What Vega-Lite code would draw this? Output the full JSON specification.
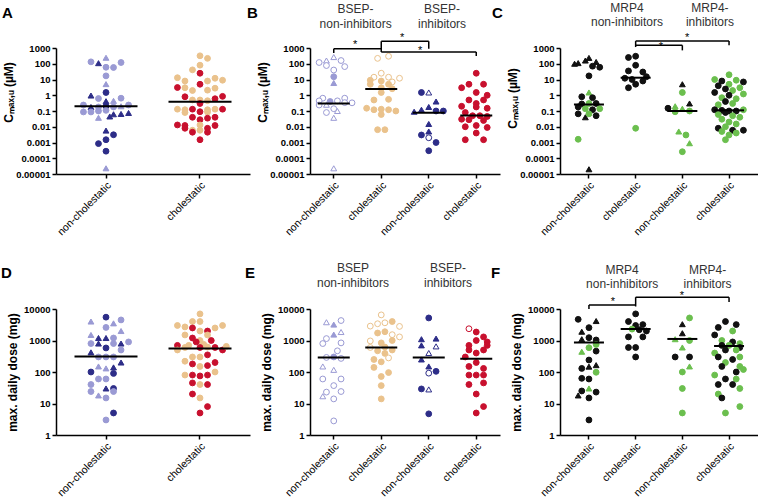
{
"$schema":"https://vega.github.io/schema/vega-lite/v6.json",
"padding":{"left":1,"top":1,"right":0,"bottom":0},
"background":"white",
"resolve":{"scale":{"xOffset":"independent","x":"independent","y":"independent"}},
"config":{"font":"Liberation Sans","view":{"stroke":null},
 "axis":{"domainColor":"black","domainWidth":1.5,"tickColor":"black","tickWidth":1.5,"tickSize":4,"labelColor":"black","titleColor":"black","grid":false},
 "axisY":{"labelFontSize":9.5,"labelFontWeight":"bold","labelPadding":2,"titleFontSize":12,"titleFontWeight":"bold"},
 "axisX":{"labelFontSize":10.5,"labelAngle":-45,"labelPadding":2}},
"datasets":{
"pts":[
{"p":"A","g":"nc","v":240,"s":0,"k":"lav","m":"t"},{"p":"A","g":"nc","v":132,"s":-4,"k":"lav","m":"c"},{"p":"A","g":"nc","v":109,"s":-2,"k":"nav","m":"t"},{"p":"A","g":"nc","v":120,"s":4,"k":"lav","m":"c"},{"p":"A","g":"nc","v":60,"s":0,"k":"lav","m":"c"},{"p":"A","g":"nc","v":58,"s":2,"k":"lav","m":"c"},{"p":"A","g":"nc","v":17,"s":0,"k":"lav","m":"c"},{"p":"A","g":"nc","v":5.1,"s":0,"k":"lav","m":"t"},{"p":"A","g":"nc","v":1.5,"s":0,"k":"nav","m":"c"},{"p":"A","g":"nc","v":0.96,"s":-4,"k":"nav","m":"t"},{"p":"A","g":"nc","v":0.62,"s":-2,"k":"lav","m":"c"},{"p":"A","g":"nc","v":0.65,"s":4,"k":"lav","m":"c"},{"p":"A","g":"nc","v":0.42,"s":0,"k":"nav","m":"t"},{"p":"A","g":"nc","v":0.44,"s":2,"k":"lav","m":"t"},{"p":"A","g":"nc","v":0.24,"s":-6,"k":"lav","m":"c"},{"p":"A","g":"nc","v":0.24,"s":6,"k":"lav","m":"c"},{"p":"A","g":"nc","v":0.18,"s":-4,"k":"nav","m":"t"},{"p":"A","g":"nc","v":0.18,"s":-2,"k":"lav","m":"c"},{"p":"A","g":"nc","v":0.2,"s":0,"k":"nav","m":"c"},{"p":"A","g":"nc","v":0.18,"s":2,"k":"lav","m":"c"},{"p":"A","g":"nc","v":0.2,"s":4,"k":"lav","m":"t"},{"p":"A","g":"nc","v":0.087,"s":-6,"k":"lav","m":"c"},{"p":"A","g":"nc","v":0.087,"s":-4,"k":"lav","m":"c"},{"p":"A","g":"nc","v":0.1,"s":-2,"k":"lav","m":"c"},{"p":"A","g":"nc","v":0.11,"s":0,"k":"lav","m":"c"},{"p":"A","g":"nc","v":0.062,"s":2,"k":"nav","m":"t"},{"p":"A","g":"nc","v":0.065,"s":4,"k":"nav","m":"t"},{"p":"A","g":"nc","v":0.075,"s":6,"k":"nav","m":"t"},{"p":"A","g":"nc","v":0.037,"s":-2,"k":"lav","m":"t"},{"p":"A","g":"nc","v":0.045,"s":1,"k":"nav","m":"t"},{"p":"A","g":"nc","v":0.0057,"s":0,"k":"nav","m":"t"},{"p":"A","g":"nc","v":0.0031,"s":2,"k":"nav","m":"c"},{"p":"A","g":"nc","v":0.0015,"s":0,"k":"nav","m":"c"},{"p":"A","g":"nc","v":0.00085,"s":-2,"k":"nav","m":"c"},{"p":"A","g":"nc","v":0.00028,"s":0,"k":"nav","m":"c"},{"p":"A","g":"nc","v":0.000023,"s":0,"k":"lav","m":"t"},
{"p":"A","g":"c","v":320,"s":0,"k":"tan","m":"c"},{"p":"A","g":"c","v":220,"s":2,"k":"tan","m":"c"},{"p":"A","g":"c","v":81,"s":0,"k":"tan","m":"c"},{"p":"A","g":"c","v":41,"s":-2,"k":"tan","m":"c"},{"p":"A","g":"c","v":25,"s":0,"k":"red","m":"c"},{"p":"A","g":"c","v":13,"s":-6,"k":"tan","m":"c"},{"p":"A","g":"c","v":12,"s":4,"k":"tan","m":"c"},{"p":"A","g":"c","v":9,"s":6,"k":"tan","m":"c"},{"p":"A","g":"c","v":8,"s":-4,"k":"tan","m":"c"},{"p":"A","g":"c","v":8,"s":2,"k":"tan","m":"c"},{"p":"A","g":"c","v":5,"s":0,"k":"red","m":"c"},{"p":"A","g":"c","v":3.1,"s":-6,"k":"red","m":"c"},{"p":"A","g":"c","v":3,"s":-4,"k":"tan","m":"c"},{"p":"A","g":"c","v":2.8,"s":4,"k":"tan","m":"c"},{"p":"A","g":"c","v":2,"s":-2,"k":"tan","m":"c"},{"p":"A","g":"c","v":2.1,"s":2,"k":"tan","m":"c"},{"p":"A","g":"c","v":0.8,"s":-4,"k":"red","m":"c"},{"p":"A","g":"c","v":0.85,"s":6,"k":"red","m":"c"},{"p":"A","g":"c","v":0.6,"s":4,"k":"red","m":"c"},{"p":"A","g":"c","v":0.5,"s":-2,"k":"tan","m":"c"},{"p":"A","g":"c","v":0.5,"s":0,"k":"tan","m":"c"},{"p":"A","g":"c","v":0.45,"s":2,"k":"tan","m":"c"},{"p":"A","g":"c","v":0.3,"s":0,"k":"red","m":"c"},{"p":"A","g":"c","v":0.13,"s":-6,"k":"tan","m":"c"},{"p":"A","g":"c","v":0.12,"s":-4,"k":"tan","m":"c"},{"p":"A","g":"c","v":0.13,"s":-2,"k":"red","m":"c"},{"p":"A","g":"c","v":0.12,"s":2,"k":"tan","m":"c"},{"p":"A","g":"c","v":0.13,"s":4,"k":"tan","m":"c"},{"p":"A","g":"c","v":0.13,"s":6,"k":"red","m":"c"},{"p":"A","g":"c","v":0.08,"s":-4,"k":"tan","m":"c"},{"p":"A","g":"c","v":0.09,"s":0,"k":"red","m":"c"},{"p":"A","g":"c","v":0.085,"s":2,"k":"tan","m":"c"},{"p":"A","g":"c","v":0.04,"s":-2,"k":"red","m":"c"},{"p":"A","g":"c","v":0.035,"s":2,"k":"red","m":"c"},{"p":"A","g":"c","v":0.04,"s":4,"k":"red","m":"c"},{"p":"A","g":"c","v":0.028,"s":0,"k":"red","m":"c"},{"p":"A","g":"c","v":0.013,"s":-6,"k":"red","m":"c"},{"p":"A","g":"c","v":0.012,"s":-4,"k":"red","m":"c"},{"p":"A","g":"c","v":0.013,"s":0,"k":"tan","m":"c"},{"p":"A","g":"c","v":0.012,"s":4,"k":"red","m":"c"},{"p":"A","g":"c","v":0.008,"s":-4,"k":"red","m":"c"},{"p":"A","g":"c","v":0.008,"s":2,"k":"red","m":"c"},{"p":"A","g":"c","v":0.006,"s":-2,"k":"tan","m":"c"},{"p":"A","g":"c","v":0.006,"s":0,"k":"tan","m":"c"},{"p":"A","g":"c","v":0.0045,"s":-2,"k":"red","m":"c"},{"p":"A","g":"c","v":0.0045,"s":2,"k":"red","m":"c"},{"p":"A","g":"c","v":0.0015,"s":0,"k":"red","m":"c"},
{"p":"B","g":"nc","v":265,"s":0,"k":"lav","m":"t","o":1},{"p":"B","g":"nc","v":160,"s":-2,"k":"lav","m":"t","o":1},{"p":"B","g":"nc","v":160,"s":2,"k":"lav","m":"c","o":1},{"p":"B","g":"nc","v":120,"s":-4,"k":"lav","m":"c","o":1},{"p":"B","g":"nc","v":77,"s":-2,"k":"lav","m":"c","o":1},{"p":"B","g":"nc","v":66,"s":3,"k":"lav","m":"c","o":1},{"p":"B","g":"nc","v":40,"s":0,"k":"lav","m":"c","o":1},{"p":"B","g":"nc","v":15,"s":0,"k":"lav","m":"c"},{"p":"B","g":"nc","v":6,"s":0,"k":"lav","m":"t"},{"p":"B","g":"nc","v":0.65,"s":-3,"k":"lav","m":"c","o":1},{"p":"B","g":"nc","v":0.65,"s":3,"k":"lav","m":"c","o":1},{"p":"B","g":"nc","v":0.44,"s":-4,"k":"lav","m":"c","o":1},{"p":"B","g":"nc","v":0.4,"s":-1,"k":"lav","m":"c"},{"p":"B","g":"nc","v":0.44,"s":1,"k":"lav","m":"c","o":1},{"p":"B","g":"nc","v":0.25,"s":-2,"k":"lav","m":"t","o":1},{"p":"B","g":"nc","v":0.24,"s":-4,"k":"lav","m":"c","o":1},{"p":"B","g":"nc","v":0.34,"s":3,"k":"lav","m":"c","o":1},{"p":"B","g":"nc","v":0.33,"s":5,"k":"lav","m":"c","o":1},{"p":"B","g":"nc","v":0.08,"s":-2,"k":"lav","m":"c","o":1},{"p":"B","g":"nc","v":0.1,"s":1,"k":"lav","m":"t","o":1},{"p":"B","g":"nc","v":0.14,"s":0,"k":"lav","m":"c","o":1},{"p":"B","g":"nc","v":0.037,"s":0,"k":"lav","m":"t","o":1},{"p":"B","g":"nc","v":0.000023,"s":0,"k":"lav","m":"t","o":1},
{"p":"B","g":"c","v":300,"s":2,"k":"tan","m":"c","o":1},{"p":"B","g":"c","v":220,"s":-1,"k":"tan","m":"c","o":1},{"p":"B","g":"c","v":14,"s":-2,"k":"tan","m":"c","o":1},{"p":"B","g":"c","v":14,"s":2,"k":"tan","m":"c","o":1},{"p":"B","g":"c","v":12,"s":5,"k":"tan","m":"c","o":1},{"p":"B","g":"c","v":8,"s":0,"k":"tan","m":"c"},{"p":"B","g":"c","v":9,"s":-3,"k":"tan","m":"c"},{"p":"B","g":"c","v":7,"s":3,"k":"tan","m":"c","o":1},{"p":"B","g":"c","v":5,"s":-3,"k":"tan","m":"c"},{"p":"B","g":"c","v":5,"s":2,"k":"tan","m":"c"},{"p":"B","g":"c","v":3,"s":0,"k":"tan","m":"c"},{"p":"B","g":"c","v":2.6,"s":3,"k":"tan","m":"c"},{"p":"B","g":"c","v":1.5,"s":0,"k":"tan","m":"c"},{"p":"B","g":"c","v":0.5,"s":-2,"k":"tan","m":"c"},{"p":"B","g":"c","v":0.55,"s":2,"k":"tan","m":"c"},{"p":"B","g":"c","v":0.15,"s":-4,"k":"tan","m":"c"},{"p":"B","g":"c","v":0.12,"s":-2,"k":"tan","m":"c"},{"p":"B","g":"c","v":0.13,"s":0,"k":"tan","m":"c"},{"p":"B","g":"c","v":0.12,"s":2,"k":"tan","m":"c"},{"p":"B","g":"c","v":0.1,"s":4,"k":"tan","m":"c"},{"p":"B","g":"c","v":0.06,"s":0,"k":"tan","m":"c"},{"p":"B","g":"c","v":0.0065,"s":-1,"k":"tan","m":"c"},{"p":"B","g":"c","v":0.0065,"s":1,"k":"tan","m":"c"},{"p":"B","g":"c","v":25,"s":0,"k":"tan","m":"c","o":1},
{"p":"B","g":"nc2","v":1.5,"s":-2,"k":"nav","m":"c"},{"p":"B","g":"nc2","v":1.5,"s":0,"k":"nav","m":"t","o":1},{"p":"B","g":"nc2","v":0.4,"s":2,"k":"nav","m":"t"},{"p":"B","g":"nc2","v":0.18,"s":0,"k":"nav","m":"t"},{"p":"B","g":"nc2","v":0.12,"s":-2,"k":"nav","m":"t"},{"p":"B","g":"nc2","v":0.1,"s":2,"k":"nav","m":"c"},{"p":"B","g":"nc2","v":0.09,"s":-4,"k":"nav","m":"t"},{"p":"B","g":"nc2","v":0.1,"s":4,"k":"nav","m":"c"},{"p":"B","g":"nc2","v":0.015,"s":0,"k":"nav","m":"t"},{"p":"B","g":"nc2","v":0.005,"s":0,"k":"nav","m":"t"},{"p":"B","g":"nc2","v":0.003,"s":-2,"k":"nav","m":"c"},{"p":"B","g":"nc2","v":0.002,"s":0,"k":"nav","m":"c","o":1},{"p":"B","g":"nc2","v":0.001,"s":2,"k":"nav","m":"c"},{"p":"B","g":"nc2","v":0.0003,"s":0,"k":"nav","m":"c"},
{"p":"B","g":"c2","v":25,"s":0,"k":"red","m":"c"},{"p":"B","g":"c2","v":5,"s":-2,"k":"red","m":"c"},{"p":"B","g":"c2","v":5,"s":2,"k":"red","m":"c"},{"p":"B","g":"c2","v":3,"s":-4,"k":"red","m":"c"},{"p":"B","g":"c2","v":1.5,"s":0,"k":"red","m":"c"},{"p":"B","g":"c2","v":1,"s":3,"k":"red","m":"c"},{"p":"B","g":"c2","v":0.5,"s":-2,"k":"red","m":"c"},{"p":"B","g":"c2","v":0.5,"s":2,"k":"red","m":"c"},{"p":"B","g":"c2","v":0.3,"s":0,"k":"red","m":"c"},{"p":"B","g":"c2","v":0.2,"s":-4,"k":"red","m":"c"},{"p":"B","g":"c2","v":0.18,"s":0,"k":"red","m":"c"},{"p":"B","g":"c2","v":0.15,"s":3,"k":"red","m":"c"},{"p":"B","g":"c2","v":0.08,"s":-3,"k":"red","m":"c"},{"p":"B","g":"c2","v":0.05,"s":-1,"k":"red","m":"c"},{"p":"B","g":"c2","v":0.05,"s":1,"k":"red","m":"c"},{"p":"B","g":"c2","v":0.045,"s":3,"k":"red","m":"c"},{"p":"B","g":"c2","v":0.03,"s":-4,"k":"red","m":"c"},{"p":"B","g":"c2","v":0.028,"s":-2,"k":"red","m":"c"},{"p":"B","g":"c2","v":0.025,"s":2,"k":"red","m":"c"},{"p":"B","g":"c2","v":0.01,"s":-3,"k":"red","m":"c"},{"p":"B","g":"c2","v":0.012,"s":0,"k":"red","m":"c"},{"p":"B","g":"c2","v":0.009,"s":3,"k":"red","m":"c"},{"p":"B","g":"c2","v":0.004,"s":0,"k":"red","m":"c"},{"p":"B","g":"c2","v":0.0015,"s":-3,"k":"red","m":"c"},{"p":"B","g":"c2","v":0.0015,"s":2,"k":"red","m":"c"},
{"p":"C","g":"nc","v":110,"s":-3,"k":"blk","m":"t"},{"p":"C","g":"nc","v":160,"s":-1,"k":"blk","m":"t"},{"p":"C","g":"nc","v":235,"s":0,"k":"blk","m":"t"},{"p":"C","g":"nc","v":130,"s":2,"k":"blk","m":"t"},{"p":"C","g":"nc","v":100,"s":-4,"k":"blk","m":"t"},{"p":"C","g":"nc","v":70,"s":1,"k":"blk","m":"c"},{"p":"C","g":"nc","v":60,"s":3,"k":"blk","m":"c"},{"p":"C","g":"nc","v":17,"s":0,"k":"blk","m":"c"},{"p":"C","g":"nc","v":1.5,"s":0,"k":"grn","m":"t"},{"p":"C","g":"nc","v":0.8,"s":-2,"k":"blk","m":"c"},{"p":"C","g":"nc","v":0.7,"s":1,"k":"blk","m":"c"},{"p":"C","g":"nc","v":0.28,"s":-2,"k":"blk","m":"c"},{"p":"C","g":"nc","v":0.3,"s":0,"k":"grn","m":"c"},{"p":"C","g":"nc","v":0.3,"s":2,"k":"blk","m":"c"},{"p":"C","g":"nc","v":0.18,"s":-3,"k":"blk","m":"c"},{"p":"C","g":"nc","v":0.14,"s":-1,"k":"grn","m":"c"},{"p":"C","g":"nc","v":0.12,"s":1,"k":"blk","m":"c"},{"p":"C","g":"nc","v":0.14,"s":3,"k":"grn","m":"c"},{"p":"C","g":"nc","v":0.066,"s":-3,"k":"blk","m":"c"},{"p":"C","g":"nc","v":0.05,"s":2,"k":"blk","m":"c"},{"p":"C","g":"nc","v":0.04,"s":-1,"k":"blk","m":"t"},{"p":"C","g":"nc","v":0.066,"s":0,"k":"grn","m":"c"},{"p":"C","g":"nc","v":0.0016,"s":-3,"k":"grn","m":"c"},{"p":"C","g":"nc","v":0.00002,"s":0,"k":"blk","m":"t"},
{"p":"C","g":"c","v":250,"s":-2,"k":"blk","m":"c"},{"p":"C","g":"c","v":300,"s":0,"k":"blk","m":"c"},{"p":"C","g":"c","v":80,"s":0,"k":"blk","m":"c"},{"p":"C","g":"c","v":35,"s":-2,"k":"blk","m":"c"},{"p":"C","g":"c","v":30,"s":2,"k":"blk","m":"c"},{"p":"C","g":"c","v":10,"s":-1,"k":"blk","m":"c"},{"p":"C","g":"c","v":8,"s":2,"k":"blk","m":"c"},{"p":"C","g":"c","v":5,"s":0,"k":"blk","m":"c"},{"p":"C","g":"c","v":3,"s":-2,"k":"blk","m":"c"},{"p":"C","g":"c","v":12,"s":-3,"k":"blk","m":"c"},{"p":"C","g":"c","v":15,"s":3,"k":"blk","m":"c"},{"p":"C","g":"c","v":0.008,"s":0,"k":"grn","m":"c"},
{"p":"C","g":"nc2","v":5,"s":0,"k":"blk","m":"t"},{"p":"C","g":"nc2","v":1.5,"s":0,"k":"grn","m":"c"},{"p":"C","g":"nc2","v":0.2,"s":-2,"k":"grn","m":"t"},{"p":"C","g":"nc2","v":0.3,"s":2,"k":"blk","m":"t"},{"p":"C","g":"nc2","v":0.15,"s":-4,"k":"blk","m":"c"},{"p":"C","g":"nc2","v":0.14,"s":0,"k":"grn","m":"t"},{"p":"C","g":"nc2","v":0.1,"s":2,"k":"grn","m":"c"},{"p":"C","g":"nc2","v":0.09,"s":-2,"k":"grn","m":"c"},{"p":"C","g":"nc2","v":0.005,"s":-1,"k":"grn","m":"t"},{"p":"C","g":"nc2","v":0.003,"s":1,"k":"grn","m":"c"},{"p":"C","g":"nc2","v":0.0009,"s":2,"k":"grn","m":"t"},{"p":"C","g":"nc2","v":0.00026,"s":0,"k":"grn","m":"c"},
{"p":"C","g":"c2","v":20,"s":0,"k":"grn","m":"c"},{"p":"C","g":"c2","v":8,"s":-2,"k":"blk","m":"c"},{"p":"C","g":"c2","v":9,"s":2,"k":"grn","m":"c"},{"p":"C","g":"c2","v":10,"s":-4,"k":"grn","m":"c"},{"p":"C","g":"c2","v":7,"s":4,"k":"blk","m":"c"},{"p":"C","g":"c2","v":5,"s":0,"k":"grn","m":"c"},{"p":"C","g":"c2","v":4,"s":-3,"k":"blk","m":"c"},{"p":"C","g":"c2","v":3,"s":3,"k":"grn","m":"c"},{"p":"C","g":"c2","v":2.5,"s":-1,"k":"blk","m":"c"},{"p":"C","g":"c2","v":2,"s":1,"k":"grn","m":"c"},{"p":"C","g":"c2","v":1.5,"s":-4,"k":"blk","m":"c"},{"p":"C","g":"c2","v":1.2,"s":4,"k":"grn","m":"c"},{"p":"C","g":"c2","v":1,"s":0,"k":"blk","m":"c"},{"p":"C","g":"c2","v":0.7,"s":-2,"k":"grn","m":"c"},{"p":"C","g":"c2","v":0.6,"s":2,"k":"grn","m":"c"},{"p":"C","g":"c2","v":0.4,"s":-1,"k":"blk","m":"c"},{"p":"C","g":"c2","v":0.3,"s":1,"k":"grn","m":"c"},{"p":"C","g":"c2","v":0.25,"s":-3,"k":"grn","m":"c"},{"p":"C","g":"c2","v":0.12,"s":-4,"k":"blk","m":"c"},{"p":"C","g":"c2","v":0.11,"s":-2,"k":"blk","m":"c"},{"p":"C","g":"c2","v":0.1,"s":0,"k":"blk","m":"c"},{"p":"C","g":"c2","v":0.1,"s":2,"k":"blk","m":"c"},{"p":"C","g":"c2","v":0.12,"s":4,"k":"grn","m":"c"},{"p":"C","g":"c2","v":0.08,"s":-1,"k":"blk","m":"c"},{"p":"C","g":"c2","v":0.06,"s":-3,"k":"grn","m":"c"},{"p":"C","g":"c2","v":0.05,"s":1,"k":"grn","m":"c"},{"p":"C","g":"c2","v":0.04,"s":3,"k":"grn","m":"c"},{"p":"C","g":"c2","v":0.03,"s":-2,"k":"grn","m":"c"},{"p":"C","g":"c2","v":0.02,"s":0,"k":"grn","m":"c"},{"p":"C","g":"c2","v":0.015,"s":2,"k":"grn","m":"c"},{"p":"C","g":"c2","v":0.008,"s":-3,"k":"blk","m":"c"},{"p":"C","g":"c2","v":0.01,"s":-1,"k":"grn","m":"c"},{"p":"C","g":"c2","v":0.006,"s":1,"k":"blk","m":"c"},{"p":"C","g":"c2","v":0.006,"s":4,"k":"blk","m":"c"},{"p":"C","g":"c2","v":0.005,"s":-2,"k":"grn","m":"c"},{"p":"C","g":"c2","v":0.004,"s":2,"k":"grn","m":"c"},{"p":"C","g":"c2","v":0.003,"s":0,"k":"grn","m":"c"},{"p":"C","g":"c2","v":0.0015,"s":-1,"k":"grn","m":"c"},
{"p":"D","g":"nc","v":5500,"s":0,"k":"nav","m":"c"},{"p":"D","g":"nc","v":4000,"s":-4,"k":"lav","m":"t"},{"p":"D","g":"nc","v":3500,"s":2,"k":"lav","m":"t"},{"p":"D","g":"nc","v":4500,"s":4,"k":"lav","m":"c"},{"p":"D","g":"nc","v":2600,"s":0,"k":"lav","m":"c"},{"p":"D","g":"nc","v":2000,"s":4,"k":"lav","m":"t"},{"p":"D","g":"nc","v":1500,"s":-4,"k":"lav","m":"t"},{"p":"D","g":"nc","v":1200,"s":-2,"k":"nav","m":"t"},{"p":"D","g":"nc","v":1200,"s":0,"k":"nav","m":"t"},{"p":"D","g":"nc","v":1200,"s":2,"k":"lav","m":"c"},{"p":"D","g":"nc","v":800,"s":-4,"k":"lav","m":"c"},{"p":"D","g":"nc","v":800,"s":-2,"k":"nav","m":"t"},{"p":"D","g":"nc","v":800,"s":2,"k":"lav","m":"c"},{"p":"D","g":"nc","v":800,"s":4,"k":"nav","m":"t"},{"p":"D","g":"nc","v":900,"s":6,"k":"lav","m":"c"},{"p":"D","g":"nc","v":580,"s":0,"k":"nav","m":"c"},{"p":"D","g":"nc","v":500,"s":4,"k":"lav","m":"c"},{"p":"D","g":"nc","v":420,"s":-4,"k":"nav","m":"t"},{"p":"D","g":"nc","v":300,"s":-2,"k":"lav","m":"c"},{"p":"D","g":"nc","v":300,"s":0,"k":"lav","m":"c"},{"p":"D","g":"nc","v":300,"s":2,"k":"lav","m":"c"},{"p":"D","g":"nc","v":200,"s":4,"k":"nav","m":"t"},{"p":"D","g":"nc","v":150,"s":-2,"k":"lav","m":"t"},{"p":"D","g":"nc","v":130,"s":0,"k":"lav","m":"t"},{"p":"D","g":"nc","v":140,"s":2,"k":"nav","m":"t"},{"p":"D","g":"nc","v":100,"s":-4,"k":"nav","m":"c"},{"p":"D","g":"nc","v":90,"s":2,"k":"nav","m":"c"},{"p":"D","g":"nc","v":60,"s":-2,"k":"lav","m":"c"},{"p":"D","g":"nc","v":60,"s":0,"k":"lav","m":"c"},{"p":"D","g":"nc","v":40,"s":-4,"k":"lav","m":"c"},{"p":"D","g":"nc","v":30,"s":0,"k":"nav","m":"t"},{"p":"D","g":"nc","v":30,"s":2,"k":"nav","m":"c"},{"p":"D","g":"nc","v":24,"s":-4,"k":"lav","m":"c"},{"p":"D","g":"nc","v":18,"s":-2,"k":"lav","m":"t"},{"p":"D","g":"nc","v":15,"s":0,"k":"lav","m":"c"},{"p":"D","g":"nc","v":24,"s":2,"k":"lav","m":"c"},{"p":"D","g":"nc","v":5,"s":2,"k":"nav","m":"c"},{"p":"D","g":"nc","v":3,"s":0,"k":"lav","m":"c"},
{"p":"D","g":"c","v":7000,"s":0,"k":"tan","m":"c"},{"p":"D","g":"c","v":4000,"s":-2,"k":"tan","m":"c"},{"p":"D","g":"c","v":4000,"s":0,"k":"tan","m":"c"},{"p":"D","g":"c","v":3000,"s":-6,"k":"tan","m":"c"},{"p":"D","g":"c","v":2700,"s":-4,"k":"tan","m":"c"},{"p":"D","g":"c","v":2500,"s":-2,"k":"red","m":"c"},{"p":"D","g":"c","v":2000,"s":2,"k":"red","m":"c"},{"p":"D","g":"c","v":2500,"s":4,"k":"tan","m":"c"},{"p":"D","g":"c","v":3000,"s":6,"k":"tan","m":"c"},{"p":"D","g":"c","v":2000,"s":0,"k":"tan","m":"c"},{"p":"D","g":"c","v":1500,"s":-4,"k":"tan","m":"c"},{"p":"D","g":"c","v":1500,"s":2,"k":"tan","m":"c"},{"p":"D","g":"c","v":1200,"s":-2,"k":"red","m":"c"},{"p":"D","g":"c","v":1000,"s":0,"k":"tan","m":"c"},{"p":"D","g":"c","v":1000,"s":3,"k":"red","m":"c"},{"p":"D","g":"c","v":900,"s":-1,"k":"red","m":"c"},{"p":"D","g":"c","v":700,"s":-3,"k":"tan","m":"c"},{"p":"D","g":"c","v":700,"s":-6,"k":"red","m":"c"},{"p":"D","g":"c","v":750,"s":1,"k":"tan","m":"c"},{"p":"D","g":"c","v":500,"s":-6,"k":"tan","m":"c"},{"p":"D","g":"c","v":600,"s":-4,"k":"tan","m":"c"},{"p":"D","g":"c","v":600,"s":0,"k":"red","m":"c"},{"p":"D","g":"c","v":620,"s":2,"k":"tan","m":"c"},{"p":"D","g":"c","v":600,"s":4,"k":"red","m":"c"},{"p":"D","g":"c","v":500,"s":6,"k":"red","m":"c"},{"p":"D","g":"c","v":650,"s":7,"k":"tan","m":"c"},{"p":"D","g":"c","v":220,"s":-4,"k":"tan","m":"c"},{"p":"D","g":"c","v":300,"s":-2,"k":"tan","m":"c"},{"p":"D","g":"c","v":300,"s":0,"k":"tan","m":"c"},{"p":"D","g":"c","v":350,"s":2,"k":"red","m":"c"},{"p":"D","g":"c","v":180,"s":-2,"k":"red","m":"c"},{"p":"D","g":"c","v":150,"s":0,"k":"tan","m":"c"},{"p":"D","g":"c","v":160,"s":2,"k":"red","m":"c"},{"p":"D","g":"c","v":200,"s":4,"k":"red","m":"c"},{"p":"D","g":"c","v":80,"s":-4,"k":"tan","m":"c"},{"p":"D","g":"c","v":80,"s":-2,"k":"red","m":"c"},{"p":"D","g":"c","v":75,"s":0,"k":"red","m":"c"},{"p":"D","g":"c","v":80,"s":2,"k":"red","m":"c"},{"p":"D","g":"c","v":100,"s":4,"k":"tan","m":"c"},{"p":"D","g":"c","v":45,"s":-2,"k":"red","m":"c"},{"p":"D","g":"c","v":40,"s":0,"k":"tan","m":"c"},{"p":"D","g":"c","v":40,"s":2,"k":"red","m":"c"},{"p":"D","g":"c","v":20,"s":-2,"k":"red","m":"c"},{"p":"D","g":"c","v":15,"s":0,"k":"tan","m":"c"},{"p":"D","g":"c","v":8,"s":2,"k":"red","m":"c"},{"p":"D","g":"c","v":5,"s":0,"k":"red","m":"c"},
{"p":"E","g":"nc","v":3800,"s":-2,"k":"lav","m":"t","o":1},{"p":"E","g":"nc","v":3200,"s":0,"k":"lav","m":"t"},{"p":"E","g":"nc","v":4300,"s":2,"k":"lav","m":"c","o":1},{"p":"E","g":"nc","v":1860,"s":2,"k":"lav","m":"t","o":1},{"p":"E","g":"nc","v":1540,"s":0,"k":"lav","m":"t"},{"p":"E","g":"nc","v":1150,"s":-2,"k":"lav","m":"c","o":1},{"p":"E","g":"nc","v":800,"s":-3,"k":"lav","m":"c","o":1},{"p":"E","g":"nc","v":840,"s":2,"k":"lav","m":"c","o":1},{"p":"E","g":"nc","v":470,"s":1,"k":"lav","m":"c","o":1},{"p":"E","g":"nc","v":290,"s":-2,"k":"lav","m":"c","o":1},{"p":"E","g":"nc","v":300,"s":0,"k":"lav","m":"c"},{"p":"E","g":"nc","v":270,"s":2,"k":"lav","m":"c","o":1},{"p":"E","g":"nc","v":150,"s":-3,"k":"lav","m":"t","o":1},{"p":"E","g":"nc","v":117,"s":0,"k":"lav","m":"t","o":1},{"p":"E","g":"nc","v":60,"s":-3,"k":"lav","m":"c","o":1},{"p":"E","g":"nc","v":60,"s":2,"k":"lav","m":"c","o":1},{"p":"E","g":"nc","v":37,"s":0,"k":"lav","m":"c","o":1},{"p":"E","g":"nc","v":23,"s":-2,"k":"lav","m":"c","o":1},{"p":"E","g":"nc","v":24,"s":2,"k":"lav","m":"c","o":1},{"p":"E","g":"nc","v":17,"s":-3,"k":"lav","m":"t","o":1},{"p":"E","g":"nc","v":14,"s":0,"k":"lav","m":"c","o":1},{"p":"E","g":"nc","v":2.8,"s":0,"k":"lav","m":"c","o":1},
{"p":"E","g":"c","v":6500,"s":0,"k":"tan","m":"c","o":1},{"p":"E","g":"c","v":2860,"s":-3,"k":"tan","m":"c","o":1},{"p":"E","g":"c","v":3400,"s":-1,"k":"tan","m":"c","o":1},{"p":"E","g":"c","v":3650,"s":1,"k":"tan","m":"c","o":1},{"p":"E","g":"c","v":4000,"s":3,"k":"tan","m":"c"},{"p":"E","g":"c","v":2800,"s":5,"k":"tan","m":"c","o":1},{"p":"E","g":"c","v":1730,"s":-1,"k":"tan","m":"c"},{"p":"E","g":"c","v":1900,"s":1,"k":"tan","m":"c"},{"p":"E","g":"c","v":1530,"s":3,"k":"tan","m":"c","o":1},{"p":"E","g":"c","v":970,"s":-3,"k":"tan","m":"c","o":1},{"p":"E","g":"c","v":840,"s":0,"k":"tan","m":"c"},{"p":"E","g":"c","v":1000,"s":3,"k":"tan","m":"c"},{"p":"E","g":"c","v":600,"s":-3,"k":"tan","m":"c","o":1},{"p":"E","g":"c","v":470,"s":-1,"k":"tan","m":"c"},{"p":"E","g":"c","v":390,"s":1,"k":"tan","m":"c"},{"p":"E","g":"c","v":500,"s":3,"k":"tan","m":"c"},{"p":"E","g":"c","v":280,"s":2,"k":"tan","m":"c","o":1},{"p":"E","g":"c","v":210,"s":0,"k":"tan","m":"c"},{"p":"E","g":"c","v":140,"s":-2,"k":"tan","m":"c"},{"p":"E","g":"c","v":96,"s":2,"k":"tan","m":"c"},{"p":"E","g":"c","v":72,"s":0,"k":"tan","m":"c"},{"p":"E","g":"c","v":37,"s":0,"k":"tan","m":"c"},{"p":"E","g":"c","v":14,"s":0,"k":"tan","m":"c"},{"p":"E","g":"c","v":620,"s":1,"k":"tan","m":"c"},{"p":"E","g":"c","v":1300,"s":5,"k":"tan","m":"c","o":1},{"p":"E","g":"c","v":250,"s":-2,"k":"tan","m":"c"},
{"p":"E","g":"nc2","v":5200,"s":0,"k":"nav","m":"c"},{"p":"E","g":"nc2","v":1100,"s":-2,"k":"nav","m":"t"},{"p":"E","g":"nc2","v":1150,"s":2,"k":"nav","m":"t"},{"p":"E","g":"nc2","v":700,"s":-2,"k":"nav","m":"t"},{"p":"E","g":"nc2","v":650,"s":2,"k":"nav","m":"t","o":1},{"p":"E","g":"nc2","v":400,"s":0,"k":"nav","m":"t","o":1},{"p":"E","g":"nc2","v":250,"s":-2,"k":"nav","m":"t"},{"p":"E","g":"nc2","v":150,"s":0,"k":"nav","m":"t"},{"p":"E","g":"nc2","v":92,"s":0,"k":"nav","m":"c","o":1},{"p":"E","g":"nc2","v":105,"s":2,"k":"nav","m":"c"},{"p":"E","g":"nc2","v":29,"s":-2,"k":"nav","m":"c"},{"p":"E","g":"nc2","v":28,"s":0,"k":"nav","m":"t","o":1},{"p":"E","g":"nc2","v":4.7,"s":0,"k":"nav","m":"c"},
{"p":"E","g":"c2","v":2360,"s":-2,"k":"red","m":"c","o":1},{"p":"E","g":"c2","v":1860,"s":0,"k":"red","m":"c"},{"p":"E","g":"c2","v":1300,"s":2,"k":"red","m":"c"},{"p":"E","g":"c2","v":1000,"s":0,"k":"red","m":"c"},{"p":"E","g":"c2","v":900,"s":3,"k":"red","m":"c"},{"p":"E","g":"c2","v":700,"s":-2,"k":"red","m":"c"},{"p":"E","g":"c2","v":500,"s":-2,"k":"red","m":"c"},{"p":"E","g":"c2","v":400,"s":0,"k":"red","m":"c"},{"p":"E","g":"c2","v":500,"s":2,"k":"red","m":"c"},{"p":"E","g":"c2","v":200,"s":0,"k":"red","m":"c"},{"p":"E","g":"c2","v":150,"s":-2,"k":"red","m":"c"},{"p":"E","g":"c2","v":130,"s":2,"k":"red","m":"c"},{"p":"E","g":"c2","v":80,"s":-2,"k":"red","m":"c"},{"p":"E","g":"c2","v":80,"s":0,"k":"red","m":"c"},{"p":"E","g":"c2","v":80,"s":2,"k":"red","m":"c"},{"p":"E","g":"c2","v":40,"s":-2,"k":"red","m":"c"},{"p":"E","g":"c2","v":45,"s":2,"k":"red","m":"c"},{"p":"E","g":"c2","v":20,"s":0,"k":"red","m":"c"},{"p":"E","g":"c2","v":8,"s":2,"k":"red","m":"c"},{"p":"E","g":"c2","v":5,"s":0,"k":"red","m":"c"},{"p":"E","g":"c2","v":300,"s":-3,"k":"red","m":"c"},{"p":"E","g":"c2","v":700,"s":3,"k":"red","m":"c"},
{"p":"F","g":"nc","v":4700,"s":-3,"k":"blk","m":"c"},{"p":"F","g":"nc","v":4150,"s":2,"k":"blk","m":"t"},{"p":"F","g":"nc","v":2560,"s":0,"k":"blk","m":"c"},{"p":"F","g":"nc","v":1900,"s":-2,"k":"blk","m":"t"},{"p":"F","g":"nc","v":1230,"s":0,"k":"blk","m":"c"},{"p":"F","g":"nc","v":1040,"s":2,"k":"blk","m":"c"},{"p":"F","g":"nc","v":1100,"s":-2,"k":"blk","m":"t"},{"p":"F","g":"nc","v":590,"s":0,"k":"grn","m":"c"},{"p":"F","g":"nc","v":440,"s":-2,"k":"grn","m":"t"},{"p":"F","g":"nc","v":460,"s":2,"k":"blk","m":"c"},{"p":"F","g":"nc","v":240,"s":0,"k":"blk","m":"c"},{"p":"F","g":"nc","v":148,"s":0,"k":"blk","m":"t"},{"p":"F","g":"nc","v":165,"s":2,"k":"blk","m":"t"},{"p":"F","g":"nc","v":130,"s":-2,"k":"blk","m":"c"},{"p":"F","g":"nc","v":98,"s":2,"k":"grn","m":"c"},{"p":"F","g":"nc","v":63,"s":-2,"k":"blk","m":"c"},{"p":"F","g":"nc","v":60,"s":0,"k":"blk","m":"c"},{"p":"F","g":"nc","v":30,"s":0,"k":"grn","m":"t"},{"p":"F","g":"nc","v":25,"s":-2,"k":"blk","m":"c"},{"p":"F","g":"nc","v":23,"s":2,"k":"blk","m":"c"},{"p":"F","g":"nc","v":18,"s":-3,"k":"blk","m":"t"},{"p":"F","g":"nc","v":15,"s":0,"k":"blk","m":"c"},{"p":"F","g":"nc","v":3,"s":0,"k":"blk","m":"c"},{"p":"F","g":"nc","v":750,"s":2,"k":"grn","m":"c"},
{"p":"F","g":"c","v":7000,"s":0,"k":"blk","m":"c"},{"p":"F","g":"c","v":4000,"s":-2,"k":"blk","m":"c"},{"p":"F","g":"c","v":3000,"s":0,"k":"blk","m":"c"},{"p":"F","g":"c","v":3200,"s":2,"k":"blk","m":"c"},{"p":"F","g":"c","v":2300,"s":-1,"k":"grn","m":"c"},{"p":"F","g":"c","v":2200,"s":1,"k":"blk","m":"c"},{"p":"F","g":"c","v":2000,"s":3,"k":"blk","m":"c"},{"p":"F","g":"c","v":1300,"s":-2,"k":"blk","m":"c"},{"p":"F","g":"c","v":1300,"s":2,"k":"blk","m":"c"},{"p":"F","g":"c","v":600,"s":-2,"k":"blk","m":"c"},{"p":"F","g":"c","v":600,"s":0,"k":"blk","m":"c"},{"p":"F","g":"c","v":300,"s":0,"k":"blk","m":"c"},
{"p":"F","g":"nc2","v":5200,"s":2,"k":"grn","m":"c"},{"p":"F","g":"nc2","v":3300,"s":0,"k":"blk","m":"t"},{"p":"F","g":"nc2","v":1700,"s":0,"k":"blk","m":"t"},{"p":"F","g":"nc2","v":1100,"s":-2,"k":"grn","m":"t"},{"p":"F","g":"nc2","v":1000,"s":2,"k":"grn","m":"c"},{"p":"F","g":"nc2","v":600,"s":0,"k":"grn","m":"t"},{"p":"F","g":"nc2","v":300,"s":-2,"k":"blk","m":"c"},{"p":"F","g":"nc2","v":300,"s":2,"k":"blk","m":"c"},{"p":"F","g":"nc2","v":150,"s":2,"k":"grn","m":"t"},{"p":"F","g":"nc2","v":100,"s":0,"k":"grn","m":"c"},{"p":"F","g":"nc2","v":30,"s":0,"k":"grn","m":"c"},{"p":"F","g":"nc2","v":5,"s":0,"k":"grn","m":"c"},
{"p":"F","g":"c2","v":4000,"s":-1,"k":"blk","m":"c"},{"p":"F","g":"c2","v":3200,"s":2,"k":"blk","m":"c"},{"p":"F","g":"c2","v":2600,"s":-3,"k":"blk","m":"c"},{"p":"F","g":"c2","v":2000,"s":1,"k":"grn","m":"c"},{"p":"F","g":"c2","v":1500,"s":-4,"k":"blk","m":"c"},{"p":"F","g":"c2","v":1000,"s":-2,"k":"grn","m":"c"},{"p":"F","g":"c2","v":900,"s":1,"k":"blk","m":"c"},{"p":"F","g":"c2","v":800,"s":3,"k":"grn","m":"c"},{"p":"F","g":"c2","v":700,"s":-2,"k":"blk","m":"c"},{"p":"F","g":"c2","v":700,"s":0,"k":"grn","m":"c"},{"p":"F","g":"c2","v":600,"s":3,"k":"blk","m":"c"},{"p":"F","g":"c2","v":500,"s":-1,"k":"blk","m":"c"},{"p":"F","g":"c2","v":500,"s":2,"k":"grn","m":"c"},{"p":"F","g":"c2","v":400,"s":-4,"k":"grn","m":"c"},{"p":"F","g":"c2","v":300,"s":-3,"k":"blk","m":"c"},{"p":"F","g":"c2","v":300,"s":3,"k":"grn","m":"c"},{"p":"F","g":"c2","v":250,"s":1,"k":"blk","m":"c"},{"p":"F","g":"c2","v":200,"s":-1,"k":"grn","m":"c"},{"p":"F","g":"c2","v":150,"s":-2,"k":"blk","m":"c"},{"p":"F","g":"c2","v":150,"s":3,"k":"grn","m":"c"},{"p":"F","g":"c2","v":120,"s":4,"k":"grn","m":"c"},{"p":"F","g":"c2","v":100,"s":2,"k":"blk","m":"c"},{"p":"F","g":"c2","v":80,"s":-4,"k":"grn","m":"c"},{"p":"F","g":"c2","v":60,"s":-1,"k":"blk","m":"c"},{"p":"F","g":"c2","v":60,"s":2,"k":"grn","m":"c"},{"p":"F","g":"c2","v":40,"s":-3,"k":"blk","m":"c"},{"p":"F","g":"c2","v":40,"s":1,"k":"blk","m":"c"},{"p":"F","g":"c2","v":30,"s":3,"k":"grn","m":"c"},{"p":"F","g":"c2","v":20,"s":-3,"k":"grn","m":"c"},{"p":"F","g":"c2","v":15,"s":-2,"k":"blk","m":"c"},{"p":"F","g":"c2","v":8,"s":3,"k":"grn","m":"c"},{"p":"F","g":"c2","v":5,"s":-1,"k":"grn","m":"c"}
],
"med":[
{"p":"A","g":"nc","v":0.2},{"p":"A","g":"c","v":0.38},
{"p":"B","g":"nc","v":0.3},{"p":"B","g":"c","v":2.5},{"p":"B","g":"nc2","v":0.077},{"p":"B","g":"c2","v":0.052},
{"p":"C","g":"nc","v":0.26},{"p":"C","g":"c","v":13},{"p":"C","g":"nc2","v":0.1},{"p":"C","g":"c2","v":0.11},
{"p":"D","g":"nc","v":310},{"p":"D","g":"c","v":560},
{"p":"E","g":"nc","v":290},{"p":"E","g":"c","v":600},{"p":"E","g":"nc2","v":290},{"p":"E","g":"c2","v":265},
{"p":"F","g":"nc","v":870},{"p":"F","g":"c","v":2320},{"p":"F","g":"nc2","v":1120},{"p":"F","g":"c2","v":670}
],
"ann":[
{"p":"A","t":"L","x":-0.606,"v":80000,"txt":"A"},{"p":"B","t":"L","x":-1.326,"v":80000,"txt":"B"},{"p":"C","t":"L","x":-1.576,"v":80000,"txt":"C"},
{"p":"D","t":"L","x":-0.617,"v":100000,"txt":"D"},{"p":"E","t":"L","x":-1.368,"v":100000,"txt":"E"},{"p":"F","t":"L","x":-1.598,"v":100000,"txt":"F"},
{"p":"B","t":"h","x":0.96,"v":302000,"txt":"BSEP-"},{"p":"B","t":"h","x":0.96,"v":33000,"txt":"non-inhibitors"},{"p":"B","t":"h","x":2.78,"v":302000,"txt":"BSEP-"},{"p":"B","t":"h","x":2.78,"v":33000,"txt":"inhibitors"},
{"p":"C","t":"h","x":1.315,"v":347000,"txt":"MRP4"},{"p":"C","t":"h","x":1.315,"v":47900,"txt":"non-inhibitors"},{"p":"C","t":"h","x":3.09,"v":347000,"txt":"MRP4-"},{"p":"C","t":"h","x":3.09,"v":47900,"txt":"inhibitors"},
{"p":"E","t":"h","x":0.905,"v":195000,"txt":"BSEP"},{"p":"E","t":"h","x":0.905,"v":64600,"txt":"non-inhibitors"},{"p":"E","t":"h","x":2.905,"v":195000,"txt":"BSEP-"},{"p":"E","t":"h","x":2.905,"v":64600,"txt":"inhibitors"},
{"p":"F","t":"h","x":1.21,"v":178000,"txt":"MRP4"},{"p":"F","t":"h","x":1.21,"v":60000,"txt":"non-inhibitors"},{"p":"F","t":"h","x":3.04,"v":178000,"txt":"MRP4-"},{"p":"F","t":"h","x":3.04,"v":60000,"txt":"inhibitors"},
{"p":"B","t":"r","x":0.5,"x2":1.5,"v":912,"v2":912},{"p":"B","t":"r","x":0.5,"x2":0.5,"v":912,"v2":479},{"p":"B","t":"r","x":1.5,"x2":2.5,"v":2690,"v2":2690},{"p":"B","t":"r","x":1.5,"x2":1.5,"v":2690,"v2":562},{"p":"B","t":"r","x":2.5,"x2":2.5,"v":2690,"v2":912},{"p":"B","t":"r","x":1.5,"x2":3.5,"v":562,"v2":562},{"p":"B","t":"r","x":3.5,"x2":3.5,"v":562,"v2":309},
{"p":"B","t":"s","x":0.95,"v":1000,"txt":"*"},{"p":"B","t":"s","x":1.94,"v":2750,"txt":"*"},{"p":"B","t":"s","x":2.32,"v":417,"txt":"*"},
{"p":"C","t":"r","x":1.5,"x2":3.5,"v":2750,"v2":2750},{"p":"C","t":"r","x":1.5,"x2":1.5,"v":2750,"v2":1150},{"p":"C","t":"r","x":1.5,"x2":2.5,"v":1480,"v2":1480},{"p":"C","t":"r","x":2.5,"x2":2.5,"v":1480,"v2":708},{"p":"C","t":"r","x":3.5,"x2":3.5,"v":2750,"v2":1480},
{"p":"C","t":"s","x":2.04,"v":776,"txt":"*"},{"p":"C","t":"s","x":2.6,"v":2690,"txt":"*"},
{"p":"F","t":"r","x":0.5,"x2":1.5,"v":13500,"v2":13500},{"p":"F","t":"r","x":0.5,"x2":0.5,"v":13500,"v2":10000},{"p":"F","t":"r","x":1.5,"x2":3.5,"v":23700,"v2":23700},{"p":"F","t":"r","x":1.5,"x2":1.5,"v":23700,"v2":12000},{"p":"F","t":"r","x":3.5,"x2":3.5,"v":23700,"v2":16600},
{"p":"F","t":"s","x":1.01,"v":13200,"txt":"*"},{"p":"F","t":"s","x":2.49,"v":20400,"txt":"*"}
]
},
"columns":3,
"spacing":{"row":135,"column":60},
"bounds":"flush",
"concat":[
{"width":194,"height":126,"resolve":{"scale":{"x":"independent"}},"layer":[
 {"layer":[
  {"data":{"name":"pts"},"transform":[{"filter":"datum.p=='A'"}],"mark":{"type":"point","filled":true,"size":34,"opacity":1,"strokeWidth":1},
   "encoding":{"x":{"field":"g","type":"nominal","scale":{"type":"band","domain":["nc","c"],"paddingInner":0,"paddingOuter":0.032},"axis":{"title":null,"labelExpr":"indexof(datum.value,'nc')==0 ? 'non-cholestatic' : 'cholestatic'"}},
    "xOffset":{"field":"s","type":"ordinal","scale":{"domain":[-12,-11,-10,-9,-8,-7,-6,-5,-4,-3,-2,-1,0,1,2,3,4,5,6,7,8,9,10,11,12]}},
    "y":{"field":"v","type":"quantitative","scale":{"type":"log","domain":[0.00001,1000],"nice":false},"axis":{"title":"Cₘₐₓ,ᵤ (µM)","titlePadding":0,"titleY":44,"values":[0.00001,0.0001,0.001,0.01,0.1,1,10,100,1000],"labelExpr":"format(datum.value,'.5~f')"}},
    "shape":{"field":"m","type":"nominal","scale":{"domain":["c","t"],"range":["circle","triangle-up"]},"legend":null},
    "stroke":{"field":"k","type":"nominal","scale":{"domain":["lav","nav","tan","red","blk","grn"],"range":["#9A9AD4","#2D2D88","#EAC28C","#C8102E","#111111","#6BBF4E"]},"legend":null},
    "fill":{"condition":{"test":"datum.o==1","value":"white"},"field":"k","type":"nominal","scale":{"domain":["lav","nav","tan","red","blk","grn"],"range":["#9A9AD4","#2D2D88","#EAC28C","#C8102E","#111111","#6BBF4E"]},"legend":null}}},
  {"data":{"name":"med"},"transform":[{"filter":"datum.p=='A'"}],"mark":{"type":"tick","size":63,"thickness":2,"color":"black","opacity":1},
   "encoding":{"x":{"field":"g","type":"nominal","scale":{"type":"band","domain":["nc","c"],"paddingInner":0,"paddingOuter":0.032}},"y":{"field":"v","type":"quantitative","scale":{"type":"log"}}}}
 ]},
 {"data":{"name":"ann"},"transform":[{"filter":"datum.p=='A'"}],"layer":[
  {"transform":[{"filter":"datum.t=='L'"}],"mark":{"type":"text","fontSize":15,"fontWeight":"bold","align":"left","baseline":"alphabetic","color":"black"},
   "encoding":{"x":{"field":"x","type":"quantitative","scale":{"domain":[-0.032,2.032]},"axis":null},"y":{"field":"v","type":"quantitative","scale":{"type":"log"}},"text":{"field":"txt"}}}
 ]}
]},
{"width":190,"height":126,"resolve":{"scale":{"x":"independent"}},"layer":[
 {"layer":[
  {"data":{"name":"pts"},"transform":[{"filter":"datum.p=='B'"}],"mark":{"type":"point","filled":true,"size":34,"opacity":1,"strokeWidth":1},
   "encoding":{"x":{"field":"g","type":"nominal","scale":{"type":"band","domain":["nc","c","nc2","c2"],"paddingInner":0,"paddingOuter":0},"axis":{"title":null,"labelExpr":"indexof(datum.value,'nc')==0 ? 'non-cholestatic' : 'cholestatic'"}},
    "xOffset":{"field":"s","type":"ordinal","scale":{"domain":[-6,-5,-4,-3,-2,-1,0,1,2,3,4,5,6]}},
    "y":{"field":"v","type":"quantitative","scale":{"type":"log","domain":[0.00001,1000],"nice":false},"axis":{"title":"Cₘₐₓ,ᵤ (µM)","titlePadding":0,"titleY":44,"values":[0.00001,0.0001,0.001,0.01,0.1,1,10,100,1000],"labelExpr":"format(datum.value,'.5~f')"}},
    "shape":{"field":"m","type":"nominal","scale":{"domain":["c","t"],"range":["circle","triangle-up"]},"legend":null},
    "stroke":{"field":"k","type":"nominal","scale":{"domain":["lav","nav","tan","red","blk","grn"],"range":["#9A9AD4","#2D2D88","#EAC28C","#C8102E","#111111","#6BBF4E"]},"legend":null},
    "fill":{"condition":{"test":"datum.o==1","value":"white"},"field":"k","type":"nominal","scale":{"domain":["lav","nav","tan","red","blk","grn"],"range":["#9A9AD4","#2D2D88","#EAC28C","#C8102E","#111111","#6BBF4E"]},"legend":null}}},
  {"data":{"name":"med"},"transform":[{"filter":"datum.p=='B'"}],"mark":{"type":"tick","size":32,"thickness":2,"color":"black","opacity":1},
   "encoding":{"x":{"field":"g","type":"nominal","scale":{"type":"band","domain":["nc","c","nc2","c2"],"paddingInner":0,"paddingOuter":0}},"y":{"field":"v","type":"quantitative","scale":{"type":"log"}}}}
 ]},
 {"data":{"name":"ann"},"transform":[{"filter":"datum.p=='B'"}],"layer":[
  {"transform":[{"filter":"datum.t=='r'"}],"mark":{"type":"rule","strokeWidth":1.5,"color":"black"},
   "encoding":{"x":{"field":"x","type":"quantitative","scale":{"domain":[0,4]},"axis":null},"x2":{"field":"x2"},"y":{"field":"v","type":"quantitative","scale":{"type":"log"}},"y2":{"field":"v2"}}},
  {"transform":[{"filter":"datum.t=='s'"}],"mark":{"type":"text","fontSize":11,"baseline":"alphabetic","color":"black"},
   "encoding":{"x":{"field":"x","type":"quantitative","scale":{"domain":[0,4]},"axis":null},"y":{"field":"v","type":"quantitative","scale":{"type":"log"}},"text":{"field":"txt"}}},
  {"transform":[{"filter":"datum.t=='h'"}],"mark":{"type":"text","fontSize":12,"baseline":"middle","color":"#333333"},
   "encoding":{"x":{"field":"x","type":"quantitative","scale":{"domain":[0,4]},"axis":null},"y":{"field":"v","type":"quantitative","scale":{"type":"log"}},"text":{"field":"txt"}}},
  {"transform":[{"filter":"datum.t=='L'"}],"mark":{"type":"text","fontSize":15,"fontWeight":"bold","align":"left","baseline":"alphabetic","color":"black"},
   "encoding":{"x":{"field":"x","type":"quantitative","scale":{"domain":[0,4]},"axis":null},"y":{"field":"v","type":"quantitative","scale":{"type":"log"}},"text":{"field":"txt"}}}
 ]}
]},
{"width":198,"height":126,"resolve":{"scale":{"x":"independent"}},"layer":[
 {"layer":[
  {"data":{"name":"pts"},"transform":[{"filter":"datum.p=='C'"}],"mark":{"type":"point","filled":true,"size":34,"opacity":1,"strokeWidth":1},
   "encoding":{"x":{"field":"g","type":"nominal","scale":{"type":"band","domain":["nc","c","nc2","c2"],"paddingInner":0,"paddingOuter":0.12},"axis":{"title":null,"labelExpr":"indexof(datum.value,'nc')==0 ? 'non-cholestatic' : 'cholestatic'"}},
    "xOffset":{"field":"s","type":"ordinal","scale":{"domain":[-6,-5,-4,-3,-2,-1,0,1,2,3,4,5,6]}},
    "y":{"field":"v","type":"quantitative","scale":{"type":"log","domain":[0.00001,1000],"nice":false},"axis":{"title":"Cₘₐₓ,ᵤ (µM)","titlePadding":0,"titleY":50,"values":[0.00001,0.0001,0.001,0.01,0.1,1,10,100,1000],"labelExpr":"format(datum.value,'.5~f')"}},
    "shape":{"field":"m","type":"nominal","scale":{"domain":["c","t"],"range":["circle","triangle-up"]},"legend":null},
    "stroke":{"field":"k","type":"nominal","scale":{"domain":["lav","nav","tan","red","blk","grn"],"range":["#9A9AD4","#2D2D88","#EAC28C","#C8102E","#111111","#6BBF4E"]},"legend":null},
    "fill":{"condition":{"test":"datum.o==1","value":"white"},"field":"k","type":"nominal","scale":{"domain":["lav","nav","tan","red","blk","grn"],"range":["#9A9AD4","#2D2D88","#EAC28C","#C8102E","#111111","#6BBF4E"]},"legend":null}}},
  {"data":{"name":"med"},"transform":[{"filter":"datum.p=='C'"}],"mark":{"type":"tick","size":30,"thickness":2,"color":"black","opacity":1},
   "encoding":{"x":{"field":"g","type":"nominal","scale":{"type":"band","domain":["nc","c","nc2","c2"],"paddingInner":0,"paddingOuter":0.12}},"y":{"field":"v","type":"quantitative","scale":{"type":"log"}}}}
 ]},
 {"data":{"name":"ann"},"transform":[{"filter":"datum.p=='C'"}],"layer":[
  {"transform":[{"filter":"datum.t=='r'"}],"mark":{"type":"rule","strokeWidth":1.5,"color":"black"},
   "encoding":{"x":{"field":"x","type":"quantitative","scale":{"domain":[-0.12,4.12]},"axis":null},"x2":{"field":"x2"},"y":{"field":"v","type":"quantitative","scale":{"type":"log"}},"y2":{"field":"v2"}}},
  {"transform":[{"filter":"datum.t=='s'"}],"mark":{"type":"text","fontSize":11,"baseline":"alphabetic","color":"black"},
   "encoding":{"x":{"field":"x","type":"quantitative","scale":{"domain":[-0.12,4.12]},"axis":null},"y":{"field":"v","type":"quantitative","scale":{"type":"log"}},"text":{"field":"txt"}}},
  {"transform":[{"filter":"datum.t=='h'"}],"mark":{"type":"text","fontSize":12,"baseline":"middle","color":"#333333"},
   "encoding":{"x":{"field":"x","type":"quantitative","scale":{"domain":[-0.12,4.12]},"axis":null},"y":{"field":"v","type":"quantitative","scale":{"type":"log"}},"text":{"field":"txt"}}},
  {"transform":[{"filter":"datum.t=='L'"}],"mark":{"type":"text","fontSize":15,"fontWeight":"bold","align":"left","baseline":"alphabetic","color":"black"},
   "encoding":{"x":{"field":"x","type":"quantitative","scale":{"domain":[-0.12,4.12]},"axis":null},"y":{"field":"v","type":"quantitative","scale":{"type":"log"}},"text":{"field":"txt"}}}
 ]}
]},
{"width":194,"height":126,"resolve":{"scale":{"x":"independent"}},"layer":[
 {"layer":[
  {"data":{"name":"pts"},"transform":[{"filter":"datum.p=='D'"}],"mark":{"type":"point","filled":true,"size":34,"opacity":1,"strokeWidth":1},
   "encoding":{"x":{"field":"g","type":"nominal","scale":{"type":"band","domain":["nc","c"],"paddingInner":0,"paddingOuter":0.032},"axis":{"title":null,"labelExpr":"indexof(datum.value,'nc')==0 ? 'non-cholestatic' : 'cholestatic'"}},
    "xOffset":{"field":"s","type":"ordinal","scale":{"domain":[-12,-11,-10,-9,-8,-7,-6,-5,-4,-3,-2,-1,0,1,2,3,4,5,6,7,8,9,10,11,12]}},
    "y":{"field":"v","type":"quantitative","scale":{"type":"log","domain":[1,10000],"nice":false},"axis":{"title":"max. daily dose (mg)","values":[1,10,100,1000,10000],"labelExpr":"format(datum.value,'.5~f')"}},
    "shape":{"field":"m","type":"nominal","scale":{"domain":["c","t"],"range":["circle","triangle-up"]},"legend":null},
    "stroke":{"field":"k","type":"nominal","scale":{"domain":["lav","nav","tan","red","blk","grn"],"range":["#9A9AD4","#2D2D88","#EAC28C","#C8102E","#111111","#6BBF4E"]},"legend":null},
    "fill":{"condition":{"test":"datum.o==1","value":"white"},"field":"k","type":"nominal","scale":{"domain":["lav","nav","tan","red","blk","grn"],"range":["#9A9AD4","#2D2D88","#EAC28C","#C8102E","#111111","#6BBF4E"]},"legend":null}}},
  {"data":{"name":"med"},"transform":[{"filter":"datum.p=='D'"}],"mark":{"type":"tick","size":63,"thickness":2,"color":"black","opacity":1},
   "encoding":{"x":{"field":"g","type":"nominal","scale":{"type":"band","domain":["nc","c"],"paddingInner":0,"paddingOuter":0.032}},"y":{"field":"v","type":"quantitative","scale":{"type":"log"}}}}
 ]},
 {"data":{"name":"ann"},"transform":[{"filter":"datum.p=='D'"}],"layer":[
  {"transform":[{"filter":"datum.t=='L'"}],"mark":{"type":"text","fontSize":15,"fontWeight":"bold","align":"left","baseline":"alphabetic","color":"black"},
   "encoding":{"x":{"field":"x","type":"quantitative","scale":{"domain":[-0.032,2.032]},"axis":null},"y":{"field":"v","type":"quantitative","scale":{"type":"log"}},"text":{"field":"txt"}}}
 ]}
]},
{"width":190,"height":126,"resolve":{"scale":{"x":"independent"}},"layer":[
 {"layer":[
  {"data":{"name":"pts"},"transform":[{"filter":"datum.p=='E'"}],"mark":{"type":"point","filled":true,"size":34,"opacity":1,"strokeWidth":1},
   "encoding":{"x":{"field":"g","type":"nominal","scale":{"type":"band","domain":["nc","c","nc2","c2"],"paddingInner":0,"paddingOuter":0},"axis":{"title":null,"labelExpr":"indexof(datum.value,'nc')==0 ? 'non-cholestatic' : 'cholestatic'"}},
    "xOffset":{"field":"s","type":"ordinal","scale":{"domain":[-6,-5,-4,-3,-2,-1,0,1,2,3,4,5,6]}},
    "y":{"field":"v","type":"quantitative","scale":{"type":"log","domain":[1,10000],"nice":false},"axis":{"title":"max. daily dose (mg)","values":[1,10,100,1000,10000],"labelExpr":"format(datum.value,'.5~f')"}},
    "shape":{"field":"m","type":"nominal","scale":{"domain":["c","t"],"range":["circle","triangle-up"]},"legend":null},
    "stroke":{"field":"k","type":"nominal","scale":{"domain":["lav","nav","tan","red","blk","grn"],"range":["#9A9AD4","#2D2D88","#EAC28C","#C8102E","#111111","#6BBF4E"]},"legend":null},
    "fill":{"condition":{"test":"datum.o==1","value":"white"},"field":"k","type":"nominal","scale":{"domain":["lav","nav","tan","red","blk","grn"],"range":["#9A9AD4","#2D2D88","#EAC28C","#C8102E","#111111","#6BBF4E"]},"legend":null}}},
  {"data":{"name":"med"},"transform":[{"filter":"datum.p=='E'"}],"mark":{"type":"tick","size":32,"thickness":2,"color":"black","opacity":1},
   "encoding":{"x":{"field":"g","type":"nominal","scale":{"type":"band","domain":["nc","c","nc2","c2"],"paddingInner":0,"paddingOuter":0}},"y":{"field":"v","type":"quantitative","scale":{"type":"log"}}}}
 ]},
 {"data":{"name":"ann"},"transform":[{"filter":"datum.p=='E'"}],"layer":[
  {"transform":[{"filter":"datum.t=='h'"}],"mark":{"type":"text","fontSize":12,"baseline":"middle","color":"#333333"},
   "encoding":{"x":{"field":"x","type":"quantitative","scale":{"domain":[0,4]},"axis":null},"y":{"field":"v","type":"quantitative","scale":{"type":"log"}},"text":{"field":"txt"}}},
  {"transform":[{"filter":"datum.t=='L'"}],"mark":{"type":"text","fontSize":15,"fontWeight":"bold","align":"left","baseline":"alphabetic","color":"black"},
   "encoding":{"x":{"field":"x","type":"quantitative","scale":{"domain":[0,4]},"axis":null},"y":{"field":"v","type":"quantitative","scale":{"type":"log"}},"text":{"field":"txt"}}}
 ]}
]},
{"width":198,"height":126,"resolve":{"scale":{"x":"independent"}},"layer":[
 {"layer":[
  {"data":{"name":"pts"},"transform":[{"filter":"datum.p=='F'"}],"mark":{"type":"point","filled":true,"size":34,"opacity":1,"strokeWidth":1},
   "encoding":{"x":{"field":"g","type":"nominal","scale":{"type":"band","domain":["nc","c","nc2","c2"],"paddingInner":0,"paddingOuter":0.12},"axis":{"title":null,"labelExpr":"indexof(datum.value,'nc')==0 ? 'non-cholestatic' : 'cholestatic'"}},
    "xOffset":{"field":"s","type":"ordinal","scale":{"domain":[-6,-5,-4,-3,-2,-1,0,1,2,3,4,5,6]}},
    "y":{"field":"v","type":"quantitative","scale":{"type":"log","domain":[1,10000],"nice":false},"axis":{"title":"max. daily dose (mg)","values":[1,10,100,1000,10000],"labelExpr":"format(datum.value,'.5~f')"}},
    "shape":{"field":"m","type":"nominal","scale":{"domain":["c","t"],"range":["circle","triangle-up"]},"legend":null},
    "stroke":{"field":"k","type":"nominal","scale":{"domain":["lav","nav","tan","red","blk","grn"],"range":["#9A9AD4","#2D2D88","#EAC28C","#C8102E","#111111","#6BBF4E"]},"legend":null},
    "fill":{"condition":{"test":"datum.o==1","value":"white"},"field":"k","type":"nominal","scale":{"domain":["lav","nav","tan","red","blk","grn"],"range":["#9A9AD4","#2D2D88","#EAC28C","#C8102E","#111111","#6BBF4E"]},"legend":null}}},
  {"data":{"name":"med"},"transform":[{"filter":"datum.p=='F'"}],"mark":{"type":"tick","size":30,"thickness":2,"color":"black","opacity":1},
   "encoding":{"x":{"field":"g","type":"nominal","scale":{"type":"band","domain":["nc","c","nc2","c2"],"paddingInner":0,"paddingOuter":0.12}},"y":{"field":"v","type":"quantitative","scale":{"type":"log"}}}}
 ]},
 {"data":{"name":"ann"},"transform":[{"filter":"datum.p=='F'"}],"layer":[
  {"transform":[{"filter":"datum.t=='r'"}],"mark":{"type":"rule","strokeWidth":1.5,"color":"black"},
   "encoding":{"x":{"field":"x","type":"quantitative","scale":{"domain":[-0.12,4.12]},"axis":null},"x2":{"field":"x2"},"y":{"field":"v","type":"quantitative","scale":{"type":"log"}},"y2":{"field":"v2"}}},
  {"transform":[{"filter":"datum.t=='s'"}],"mark":{"type":"text","fontSize":11,"baseline":"alphabetic","color":"black"},
   "encoding":{"x":{"field":"x","type":"quantitative","scale":{"domain":[-0.12,4.12]},"axis":null},"y":{"field":"v","type":"quantitative","scale":{"type":"log"}},"text":{"field":"txt"}}},
  {"transform":[{"filter":"datum.t=='h'"}],"mark":{"type":"text","fontSize":12,"baseline":"middle","color":"#333333"},
   "encoding":{"x":{"field":"x","type":"quantitative","scale":{"domain":[-0.12,4.12]},"axis":null},"y":{"field":"v","type":"quantitative","scale":{"type":"log"}},"text":{"field":"txt"}}},
  {"transform":[{"filter":"datum.t=='L'"}],"mark":{"type":"text","fontSize":15,"fontWeight":"bold","align":"left","baseline":"alphabetic","color":"black"},
   "encoding":{"x":{"field":"x","type":"quantitative","scale":{"domain":[-0.12,4.12]},"axis":null},"y":{"field":"v","type":"quantitative","scale":{"type":"log"}},"text":{"field":"txt"}}}
 ]}
]}
]
}
